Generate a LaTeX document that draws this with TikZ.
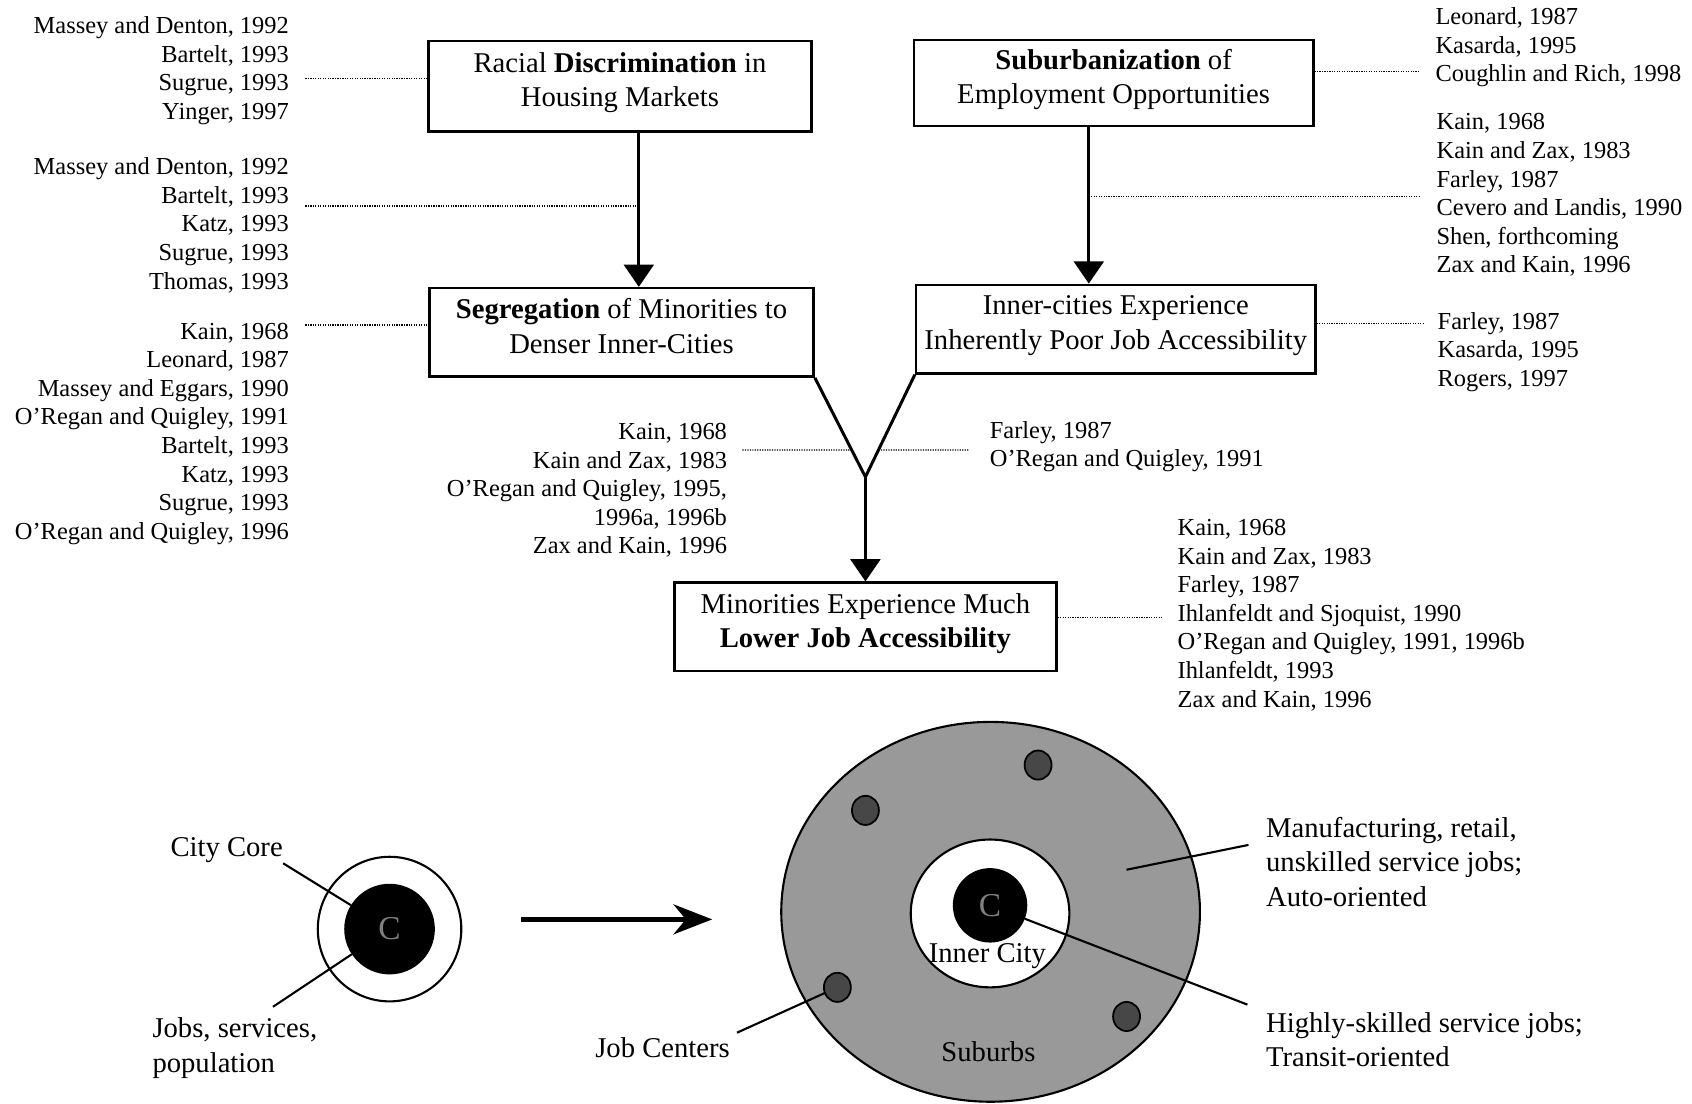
\documentclass[tikz,border=0pt]{standalone}
\usepackage{fontspec}
\setmainfont{Liberation Serif}
\usetikzlibrary{arrows.meta, calc}
\newcommand{\boxfont}{\fontsize{16.3pt}{19.6pt}\selectfont}
\newcommand{\reffont}{\fontsize{13.9pt}{16.25pt}\selectfont}
\tikzset{
  stage/.style={draw, line width=1.4pt, align=center, inner sep=0pt, font=\boxfont,
    execute at end node={\rule[-7.5pt]{0pt}{7.5pt}}},
  refs/.style={inner sep=0pt, font=\reffont},
  leader/.style={line width=0.8pt, dash pattern=on 0.7pt off 0.7pt},
  flow/.style={line width=1.7pt, -{Triangle[length=12.7pt, width=17pt]}},
  tag/.style={line width=1.2pt},
  note/.style={inner sep=0pt, font=\boxfont},
  core/.style={inner sep=0pt, text=black!50, font=\fontsize{19pt}{22pt}\selectfont}
}
\begin{document}
\begin{tikzpicture}[x=0.021582cm, y=-0.021582cm]
    \useasboundingbox (0,0) rectangle (1568,1023);

    % Causal chain
    \node[stage, minimum width=7.662cm, minimum height=1.813cm] (disc) at (574.5,80) {Racial \textbf{Discrimination} in\\Housing Markets};
    \node[stage, minimum width=7.985cm, minimum height=1.727cm] (suburb) at (1032,77) {\textbf{Suburbanization} of\\Employment Opportunities};
    \node[stage, minimum width=7.683cm, minimum height=1.770cm] (seg) at (576,308) {\textbf{Segregation} of Minorities to\\Denser Inner-Cities};
    \node[stage, minimum width=7.985cm, minimum height=1.770cm] (inner) at (1034,305) {Inner-cities Experience\\Inherently Poor Job Accessibility};
    \node[stage, minimum width=7.640cm, minimum height=1.770cm] (lower) at (802,581) {Minorities Experience Much\\\textbf{Lower Job Accessibility}};

    \coordinate (ac) at (592,191); % on arrow disc -> seg
    \coordinate (bd) at (1009,182); % on arrow suburb -> inner
    \coordinate (v) at (802,442); % fork
    \draw[flow] (ac |- disc.south) -- (ac |- seg.north);
    \draw[flow] (bd |- suburb.south) -- (bd |- inner.north);
    \draw[line width=1.7pt] (seg.south east) -- (v) -- (inner.south west);
    \draw[flow] (v) -- (lower.north);

    % Literature
    \node[refs, align=right, anchor=north east] (lit1) at (268,15) {Massey and Denton, 1992\\Bartelt, 1993\\Sugrue, 1993\\Yinger, 1997};
    \node[refs, align=right, anchor=north east] (lit2) at (268,146) {Massey and Denton, 1992\\Bartelt, 1993\\Katz, 1993\\Sugrue, 1993\\Thomas, 1993};
    \node[refs, align=right, anchor=north east] (lit3) at (268,299) {Kain, 1968\\Leonard, 1987\\Massey and Eggars, 1990\\O'Regan and Quigley, 1991\\Bartelt, 1993\\Katz, 1993\\Sugrue, 1993\\O'Regan and Quigley, 1996};
    \node[refs, align=right, anchor=north east] (lit7) at (674,392) {Kain, 1968\\Kain and Zax, 1983\\O'Regan and Quigley, 1995,\\1996a, 1996b\\Zax and Kain, 1996};
    \node[refs, align=left, anchor=north west] (lit4) at (1330,7) {Leonard, 1987\\Kasarda, 1995\\Coughlin and Rich, 1998};
    \node[refs, align=left, anchor=north west] (lit5) at (1331,105) {Kain, 1968\\Kain and Zax, 1983\\Farley, 1987\\Cevero and Landis, 1990\\Shen, forthcoming\\Zax and Kain, 1996};
    \node[refs, align=left, anchor=north west] (lit6) at (1332,289) {Farley, 1987\\Kasarda, 1995\\Rogers, 1997};
    \node[refs, align=left, anchor=north west] (lit8) at (917,390) {Farley, 1987\\O'Regan and Quigley, 1991};
    \node[refs, align=left, anchor=north west] (lit9) at (1091,481) {Kain, 1968\\Kain and Zax, 1983\\Farley, 1987\\Ihlanfeldt and Sjoquist, 1990\\O'Regan and Quigley, 1991, 1996b\\Ihlanfeldt, 1993\\Zax and Kain, 1996};

    % Dotted leaders
    \coordinate (k1) at (283,73);
    \coordinate (k2) at (283,191);
    \coordinate (k3) at (283,301);
    \coordinate (k4) at (1316,66);
    \coordinate (k5) at (1316,182);
    \coordinate (k6) at (1320,300);
    \coordinate (k7) at (688,417);
    \coordinate (k8) at (898,417);
    \coordinate (k9) at (1076,572);
    \draw[leader] (k1) -- (k1 -| disc.west);
    \draw[leader] (k2) -- (ac);
    \draw[leader] (k3) -- (k3 -| seg.west);
    \draw[leader] (k4 -| suburb.east) -- (k4);
    \draw[leader] (bd) -- (k5);
    \draw[leader] (k6 -| inner.east) -- (k6);
    \draw[leader] (k7) -- (intersection cs: first line={(seg.south east)--(v)}, second line={(k7)--(k8)});
    \draw[leader] (intersection cs: first line={(inner.south west)--(v)}, second line={(k7)--(k8)}) -- (k8);
    \draw[leader] (k9 -| lower.east) -- (k9);

    % Monocentric city
    \draw[tag] (361,861) ellipse [x radius=66.5, y radius=67];
    \fill (361,861) circle [radius=42];
    \node[core] (c1) at (361,861) {C};
    \node[note] (cc) at (210,788) {City Core};
    \node[note, align=left, anchor=north west] (jsp) at (141,943) {Jobs, services,\\population};
    \coordinate (jspend) at (253,933);
    \draw[tag] (cc.south east) -- ($(c1)!25.8pt!(cc.south east)$);
    \draw[tag] (jspend) -- ($(c1)!25.8pt!(jspend)$);

    % Arrow
    \coordinate (t0) at (483,852);
    \coordinate (t1) at (660,852);
    \draw[line width=2.6pt, -{Stealth[length=22pt, width=17pt, inset=7pt]}] (t0) -- (t1);

    % Polycentric city
    \filldraw[fill=black!40, line width=1.2pt] (918,845) ellipse [x radius=194, y radius=176];
    \filldraw[fill=white, line width=1.2pt] (917.5,846.5) ellipse [x radius=73.5, y radius=68.5];
    \fill (917.5,839) circle [radius=34.5];
    \node[core] (c2) at (917.5,839) {C};
    \coordinate (j1) at (962,709);
    \coordinate (j2) at (802,751);
    \coordinate (j3) at (776,915);
    \coordinate (j4) at (1044,942);
    \filldraw[fill=black!72, line width=1pt] (j1) ellipse [x radius=12.5, y radius=13.5];
    \filldraw[fill=black!72, line width=1pt] (j2) ellipse [x radius=12.5, y radius=13.5];
    \filldraw[fill=black!72, line width=1pt] (j3) ellipse [x radius=12.5, y radius=13.5];
    \filldraw[fill=black!72, line width=1pt] (j4) ellipse [x radius=12.5, y radius=13.5];
    \node[note] (ic) at (915,886) {Inner City};
    \node[note] (sb) at (916,975) {Suburbs};
    \node[note] (jc) at (614,971) {Job Centers};
    \node[note, align=left, anchor=north west] (manu) at (1173,757) {Manufacturing, retail,\\unskilled service jobs;\\Auto-oriented};
    \node[note, align=left, anchor=north west] (skill) at (1173,938) {Highly-skilled service jobs;\\Transit-oriented};
    \coordinate (jcend) at (683,957);
    \coordinate (manuend) at (1157,783);
    \coordinate (skillend) at (1156,931);
    \draw[tag] (jcend) -- ($(j3)!7.7pt!(jcend)$);
    \draw[tag] (manuend) -- (1044,806);
    \draw[tag] (skillend) -- ($(c2)!21.2pt!(skillend)$);
\end{tikzpicture}
\end{document}
